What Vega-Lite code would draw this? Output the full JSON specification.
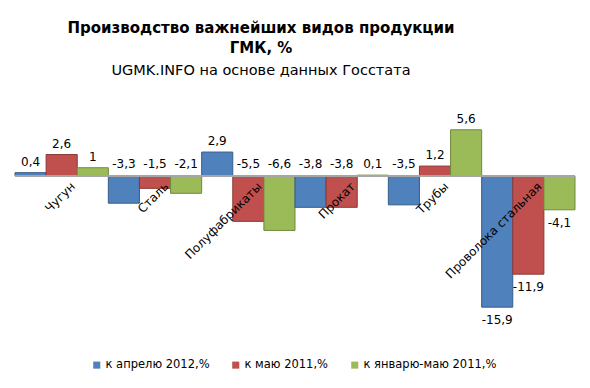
{
  "$schema": "https://vega.github.io/schema/vega-lite/v6.json",
  "width": 560,
  "height": 230,
  "autosize": "none",
  "padding": {"left": 15, "right": 15, "top": 100, "bottom": 58},
  "background": "white",
  "config": {
    "view": {"stroke": null},
    "font": "DejaVu Sans",
    "locale": {"number": {"decimal": ",", "thousands": " ", "grouping": [3], "currency": ["", ""], "minus": "-"}}
  },
  "title": {
    "text": ["Производство важнейших видов продукции", "ГМК, %"],
    "subtitle": "UGMK.INFO на основе данных Госстата",
    "fontSize": 15,
    "fontWeight": "bold",
    "font": "DejaVu Sans",
    "lineHeight": 20,
    "subtitleFont": "DejaVu Sans",
    "subtitleFontSize": 14.5,
    "subtitleColor": "black",
    "color": "black",
    "anchor": "middle",
    "dx": -34,
    "offset": 23,
    "subtitlePadding": 8
  },
  "data": {
    "values": [
      {"cat": "Чугун", "series": "к апрелю 2012,%", "value": 0.4},
      {"cat": "Чугун", "series": "к маю 2011,%", "value": 2.6},
      {"cat": "Чугун", "series": "к январю-маю 2011,%", "value": 1},
      {"cat": "Сталь", "series": "к апрелю 2012,%", "value": -3.3},
      {"cat": "Сталь", "series": "к маю 2011,%", "value": -1.5},
      {"cat": "Сталь", "series": "к январю-маю 2011,%", "value": -2.1},
      {"cat": "Полуфабрикаты", "series": "к апрелю 2012,%", "value": 2.9},
      {"cat": "Полуфабрикаты", "series": "к маю 2011,%", "value": -5.5},
      {"cat": "Полуфабрикаты", "series": "к январю-маю 2011,%", "value": -6.6},
      {"cat": "Прокат", "series": "к апрелю 2012,%", "value": -3.8},
      {"cat": "Прокат", "series": "к маю 2011,%", "value": -3.8},
      {"cat": "Прокат", "series": "к январю-маю 2011,%", "value": 0.1},
      {"cat": "Трубы", "series": "к апрелю 2012,%", "value": -3.5},
      {"cat": "Трубы", "series": "к маю 2011,%", "value": 1.2},
      {"cat": "Трубы", "series": "к январю-маю 2011,%", "value": 5.6},
      {"cat": "Проволока стальная", "series": "к апрелю 2012,%", "value": -15.9},
      {"cat": "Проволока стальная", "series": "к маю 2011,%", "value": -11.9},
      {"cat": "Проволока стальная", "series": "к январю-маю 2011,%", "value": -4.1}
    ]
  },
  "encoding": {
    "x": {
      "field": "cat", "type": "nominal", "sort": null,
      "scale": {"paddingInner": 0, "paddingOuter": 0},
      "axis": null
    }
  },
  "layer": [
    {
      "mark": {"type": "bar", "strokeWidth": 1},
      "encoding": {
        "xOffset": {"field": "series", "type": "nominal", "sort": null, "scale": {"paddingInner": 0, "paddingOuter": 0}},
        "y": {"field": "value", "type": "quantitative", "scale": {"domain": [-18.67, 9.21], "nice": false, "zero": true}, "axis": null},
        "color": {
          "field": "series", "type": "nominal", "sort": null,
          "scale": {"domain": ["к апрелю 2012,%", "к маю 2011,%", "к январю-маю 2011,%"], "range": ["#4F81BD", "#C0504D", "#9BBB59"]},
          "legend": {
            "title": null, "orient": "none", "direction": "horizontal",
            "legendX": 76, "legendY": 259,
            "symbolType": "square", "symbolSize": 50, "symbolStrokeWidth": 0,
            "labelFontSize": 11.5, "labelFont": "DejaVu Sans", "labelColor": "black",
            "columnPadding": 20, "labelOffset": 3
          }
        },
        "stroke": {
          "field": "series", "type": "nominal", "sort": null,
          "scale": {"domain": ["к апрелю 2012,%", "к маю 2011,%", "к январю-маю 2011,%"], "range": ["#385D8A", "#8C3836", "#71893F"]},
          "legend": null
        }
      }
    },
    {
      "mark": {"type": "rule", "color": "#A6A6A6", "strokeWidth": 2},
      "encoding": {"y": {"datum": 0}, "x": null}
    },
    {
      "transform": [{"filter": "datum.value > 0"}],
      "mark": {"type": "text", "baseline": "bottom", "dy": -4, "fontSize": 12, "color": "black"},
      "encoding": {
        "xOffset": {"field": "series", "type": "nominal", "sort": null, "scale": {"paddingInner": 0, "paddingOuter": 0}},
        "y": {"field": "value", "type": "quantitative"},
        "text": {"field": "value", "type": "quantitative", "format": ".1~f"}
      }
    },
    {
      "transform": [{"filter": "datum.value < 0 && datum.cat != 'Проволока стальная'"}],
      "mark": {"type": "text", "baseline": "bottom", "dy": -5, "fontSize": 12, "color": "black"},
      "encoding": {
        "xOffset": {"field": "series", "type": "nominal", "sort": null, "scale": {"paddingInner": 0, "paddingOuter": 0}},
        "y": {"datum": 0},
        "text": {"field": "value", "type": "quantitative", "format": ".1~f"}
      }
    },
    {
      "transform": [{"filter": "datum.cat == 'Проволока стальная'"}],
      "mark": {"type": "text", "baseline": "top", "dy": 8, "fontSize": 12, "color": "black"},
      "encoding": {
        "xOffset": {"field": "series", "type": "nominal", "sort": null, "scale": {"paddingInner": 0, "paddingOuter": 0}},
        "y": {"field": "value", "type": "quantitative"},
        "text": {"field": "value", "type": "quantitative", "format": ".1~f"}
      }
    },
    {
      "transform": [{"filter": "datum.series == 'к маю 2011,%'"}],
      "mark": {"type": "text", "angle": -45, "align": "right", "baseline": "top", "dy": 9, "dx": 2, "fontSize": 12, "color": "black"},
      "encoding": {
        "y": {"datum": 0},
        "text": {"field": "cat", "type": "nominal"}
      }
    }
  ]
}
